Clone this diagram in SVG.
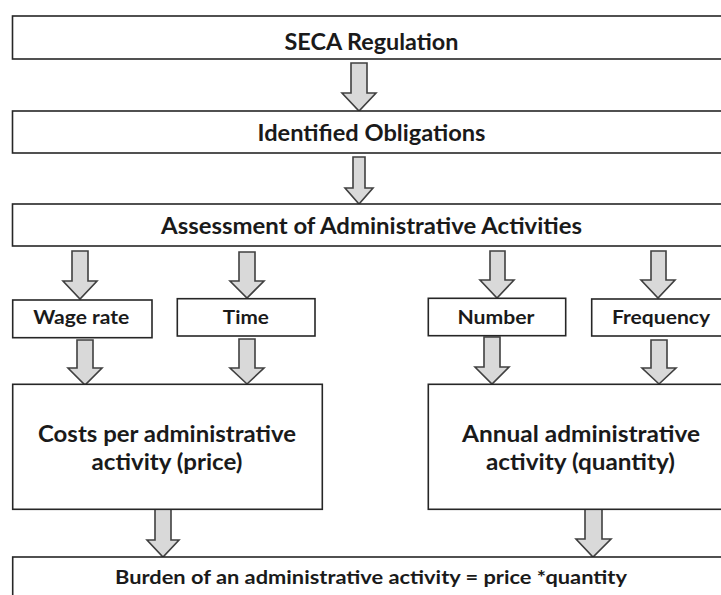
<svg xmlns="http://www.w3.org/2000/svg" width="721" height="595" viewBox="0 0 721 595">
<style>
.box{fill:#fff;stroke:#262626;stroke-width:1.6}
.arr{fill:#d9d9d9;stroke:#404040;stroke-width:1.6;stroke-linejoin:miter}
text{font-family:"Lato","Liberation Sans",sans-serif;font-weight:bold;fill:#1a1a1a;text-anchor:middle}
.h{font-size:22px}
.s{font-size:19px}
.b{font-size:18px}
</style>
<rect width="721" height="595" fill="#fff"/>
<g id="connectors">
<polygon class="arr" points="351,63 367,63 367,93 376,93 359,111 342,93 351,93"/>
<polygon class="arr" points="353,157 365,157 365,188 373,188 359,204 345,188 353,188"/>
<polygon class="arr" points="72,251 88,251 88,281 97,281 80,299 63,281 72,281"/>
<polygon class="arr" points="239,252 255,252 255,281 264,281 247,298 230,281 239,281"/>
<polygon class="arr" points="490,251 505,251 505,280 514,280 497,298 480,280 490,280"/>
<polygon class="arr" points="651,251 666,251 666,280 675,280 658,298 641,280 651,280"/>
<polygon class="arr" points="77,340 93,340 93,368 102,368 85,385 68,368 77,368"/>
<polygon class="arr" points="239,339 255,339 255,368 264,368 247,384 230,368 239,368"/>
<polygon class="arr" points="484,337 500,337 500,367 509,367 492,384 475,367 484,367"/>
<polygon class="arr" points="651,340 667,340 667,368 676,368 659,384 642,368 651,368"/>
<polygon class="arr" points="155,509 171,509 171,540 179,540 163,557 147,540 155,540"/>
<polygon class="arr" points="585,509 602,509 602,539 611,539 593,557 576,539 585,539"/>
</g>
<g id="seca">
<rect class="box" x="12.5" y="16" width="720" height="43"/>
<text class="h" x="371.5" y="49.5" textLength="174" lengthAdjust="spacingAndGlyphs">SECA Regulation</text>
</g>
<g id="obligations">
<rect class="box" x="12.5" y="111" width="720" height="42"/>
<text class="h" x="371.5" y="141" textLength="228" lengthAdjust="spacingAndGlyphs">Identified Obligations</text>
</g>
<g id="assessment">
<rect class="box" x="12.5" y="204" width="720" height="42"/>
<text class="h" x="371.5" y="234" textLength="421" lengthAdjust="spacingAndGlyphs">Assessment of Administrative Activities</text>
</g>
<g id="wage">
<rect class="box" x="12.7" y="300" width="139.3" height="37.7"/>
<text class="s" x="81.3" y="324" textLength="96" lengthAdjust="spacingAndGlyphs">Wage rate</text>
</g>
<g id="time">
<rect class="box" x="177.3" y="298.7" width="137.7" height="37.3"/>
<text class="s" x="245.8" y="324" textLength="46" lengthAdjust="spacingAndGlyphs">Time</text>
</g>
<g id="number">
<rect class="box" x="428.3" y="298.3" width="137.4" height="37.4"/>
<text class="s" x="496" y="324" textLength="77" lengthAdjust="spacingAndGlyphs">Number</text>
</g>
<g id="frequency">
<rect class="box" x="591.7" y="299" width="140" height="37"/>
<text class="s" x="661" y="324" textLength="98" lengthAdjust="spacingAndGlyphs">Frequency</text>
</g>
<g id="price">
<rect class="box" x="12.7" y="384.3" width="309.6" height="125"/>
<text class="h" x="167" y="442" textLength="258" lengthAdjust="spacingAndGlyphs">Costs per administrative</text>
<text class="h" x="167" y="470" textLength="151" lengthAdjust="spacingAndGlyphs">activity (price)</text>
</g>
<g id="quantity">
<rect class="box" x="428.3" y="384.3" width="310" height="125"/>
<text class="h" x="581" y="442" textLength="238" lengthAdjust="spacingAndGlyphs">Annual administrative</text>
<text class="h" x="580.5" y="470" textLength="189" lengthAdjust="spacingAndGlyphs">activity (quantity)</text>
</g>
<g id="burden">
<rect class="box" x="12.7" y="557" width="720" height="60"/>
<text class="b" x="371" y="584" textLength="512" lengthAdjust="spacingAndGlyphs">Burden of an administrative activity = price *quantity</text>
</g>
</svg>
